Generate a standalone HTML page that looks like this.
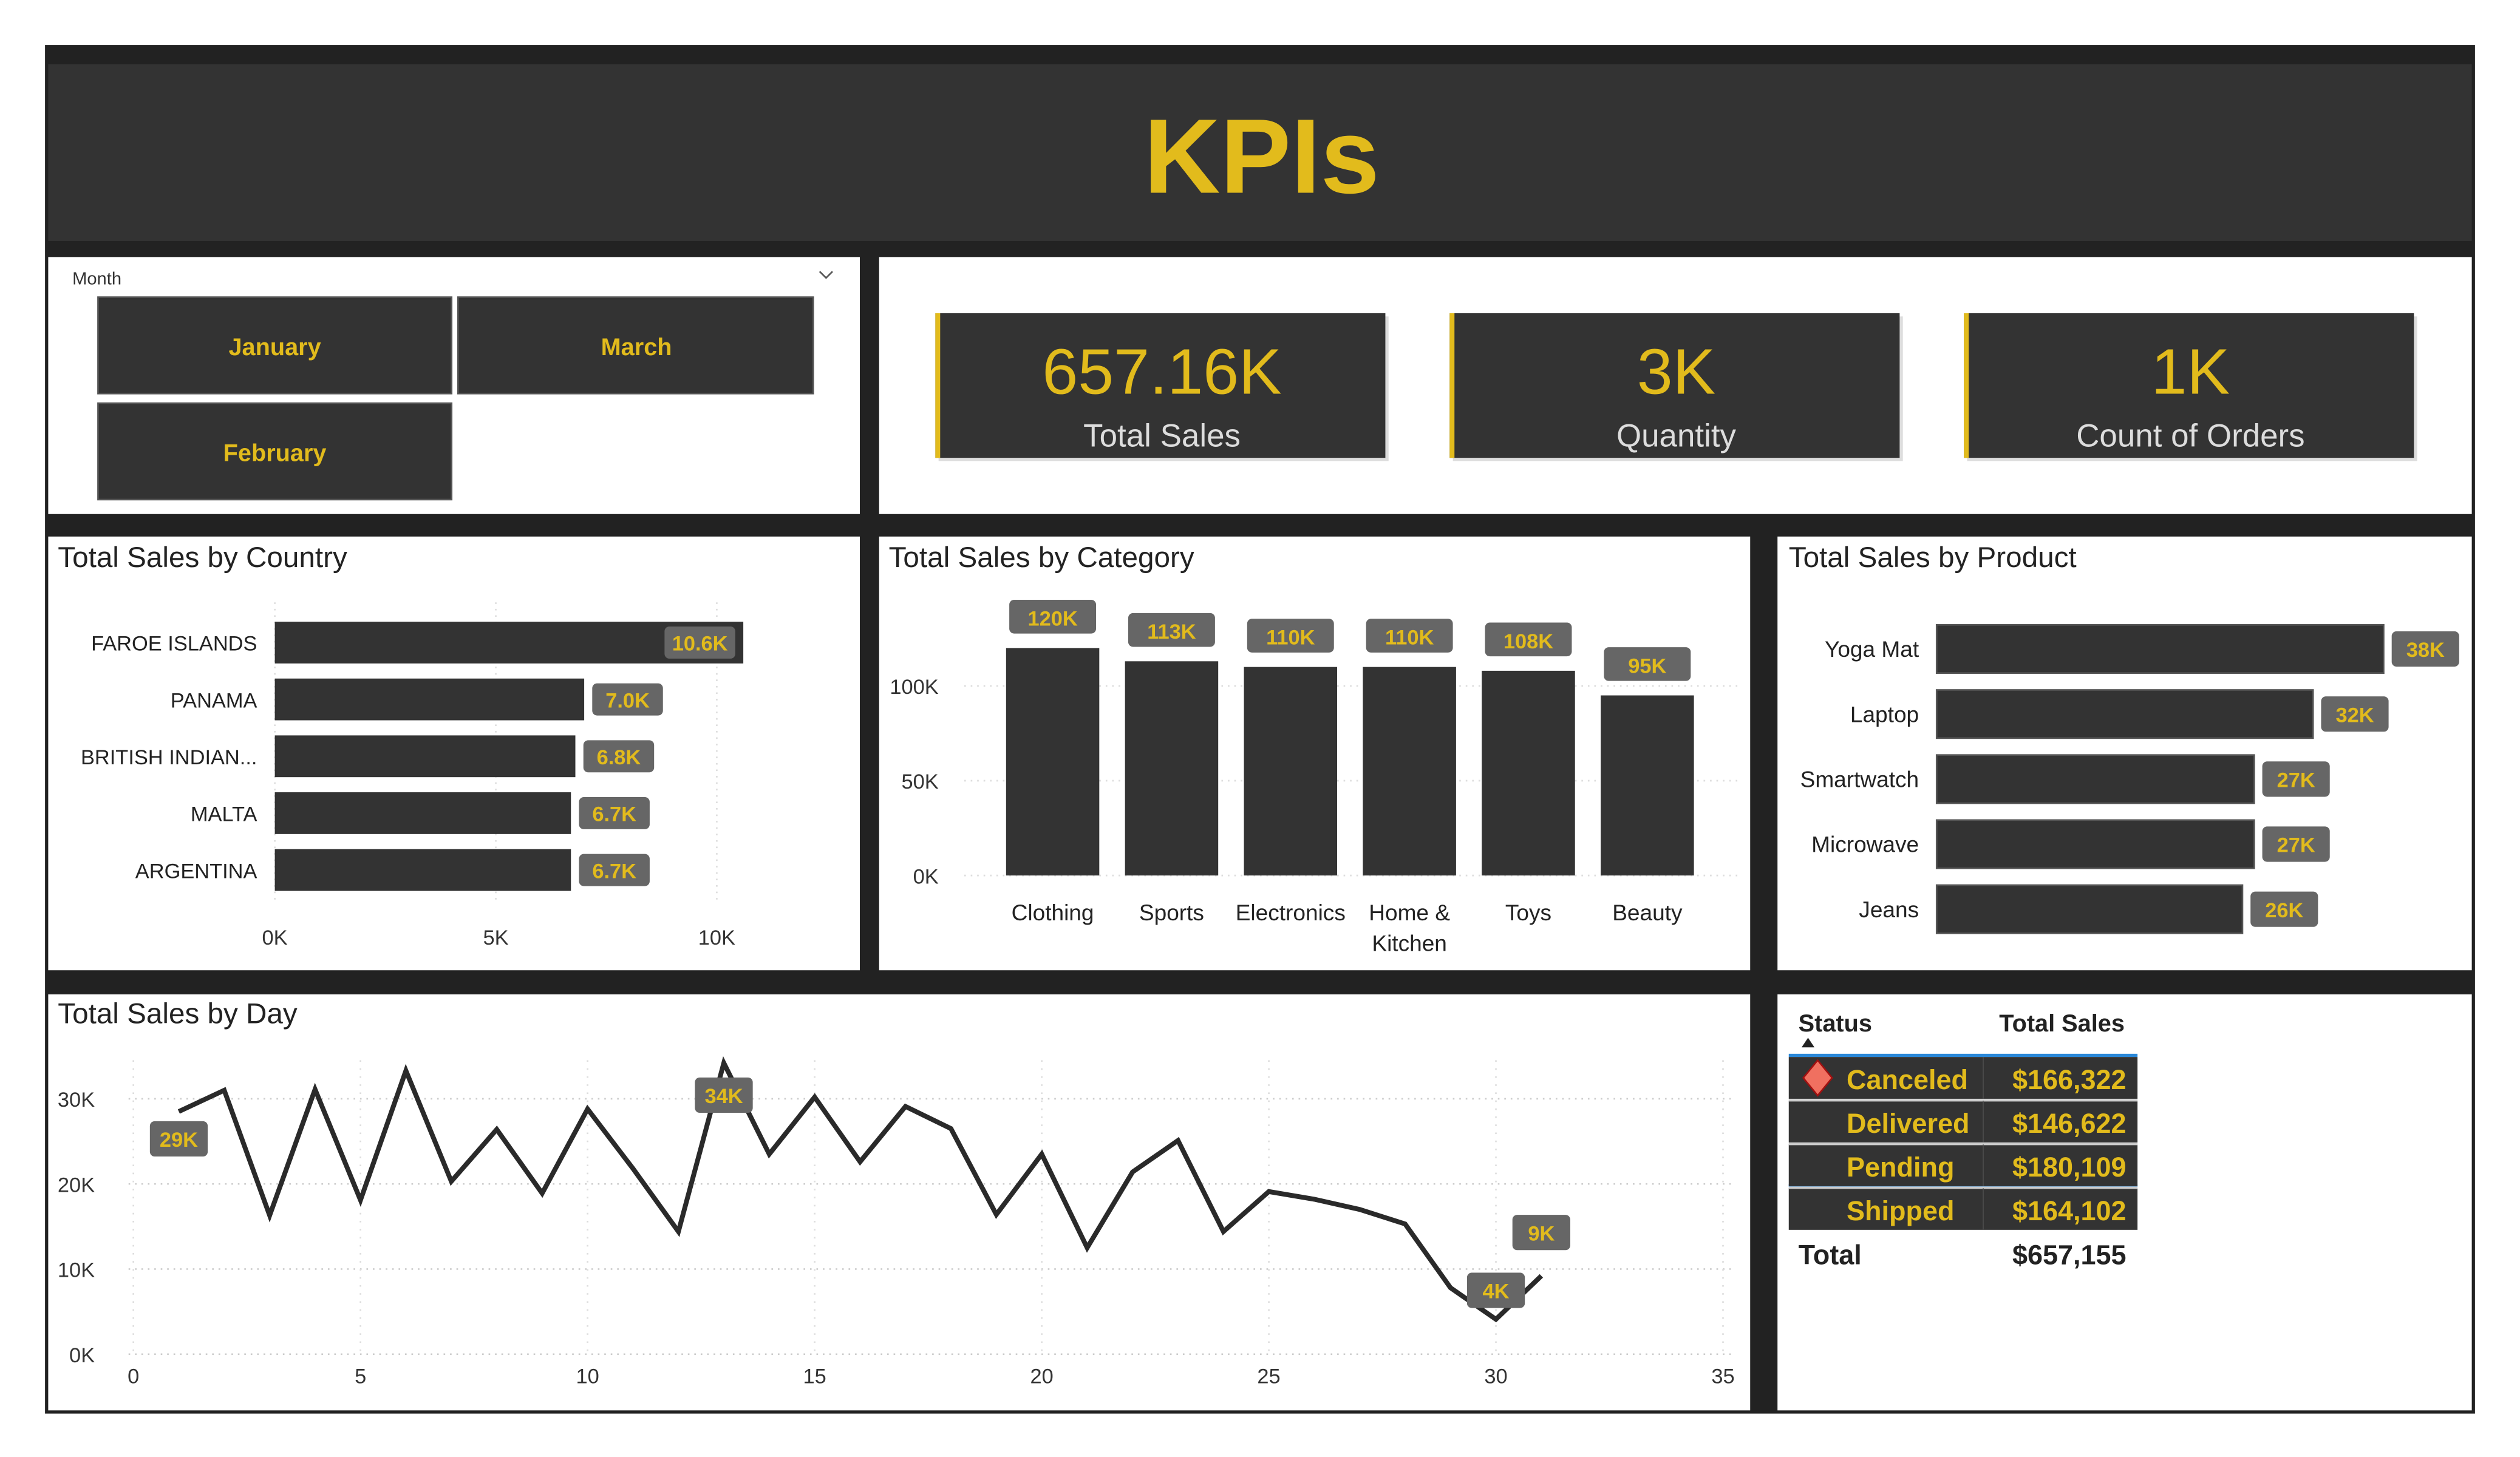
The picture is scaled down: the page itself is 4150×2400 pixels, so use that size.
<!DOCTYPE html>
<html><head><meta charset="utf-8"><style>
html,body{margin:0;padding:0;background:#fff;width:4150px;height:2400px;overflow:hidden}
svg{display:block;font-family:"Liberation Sans",sans-serif}
</style></head><body>
<svg id="root" width="4150" height="2400" viewBox="0 0 1568 907" preserveAspectRatio="none">
<rect x="0" y="0" width="1568" height="907" fill="#fff"/>
<rect x="28" y="28" width="1512" height="852" fill="#222"/>
<rect x="30" y="40" width="1508" height="110" fill="#333"/>
<text x="785" y="120" text-anchor="middle" font-size="66" font-weight="bold" fill="#E2BB1C">KPIs</text>

<rect x="30" y="160" width="505" height="160" fill="#fff"/>
<text x="45" y="177" font-size="11" fill="#333">Month</text>
<path d="M510 169 l4 4 l4 -4" stroke="#555" fill="none"/>
<g><rect x="61" y="185" width="220" height="60" fill="#333" stroke="#555"/><text x="171" y="221" text-anchor="middle" font-size="15" font-weight="bold" fill="#E2BB1C">January</text></g>
<g><rect x="285" y="185" width="221" height="60" fill="#333" stroke="#555"/><text x="396" y="221" text-anchor="middle" font-size="15" font-weight="bold" fill="#E2BB1C">March</text></g>
<g><rect x="61" y="251" width="220" height="60" fill="#333" stroke="#555"/><text x="171" y="287" text-anchor="middle" font-size="15" font-weight="bold" fill="#E2BB1C">February</text></g>

<rect x="547" y="160" width="991" height="160" fill="#fff"/>
<g><rect x="584" y="197" width="280" height="90" fill="#bbb" opacity="0.5"/><rect x="582" y="195" width="280" height="90" fill="#333"/><rect x="582" y="195" width="3" height="90" fill="#E2BB1C"/><text x="723" y="245" text-anchor="middle" font-size="40" fill="#E2BB1C">657.16K</text><text x="723" y="278" text-anchor="middle" font-size="20" fill="#ddd">Total Sales</text></g>
<g><rect x="904" y="197" width="280" height="90" fill="#bbb" opacity="0.5"/><rect x="902" y="195" width="280" height="90" fill="#333"/><rect x="902" y="195" width="3" height="90" fill="#E2BB1C"/><text x="1043" y="245" text-anchor="middle" font-size="40" fill="#E2BB1C">3K</text><text x="1043" y="278" text-anchor="middle" font-size="20" fill="#ddd">Quantity</text></g>
<g><rect x="1224" y="197" width="280" height="90" fill="#bbb" opacity="0.5"/><rect x="1222" y="195" width="280" height="90" fill="#333"/><rect x="1222" y="195" width="3" height="90" fill="#E2BB1C"/><text x="1363" y="245" text-anchor="middle" font-size="40" fill="#E2BB1C">1K</text><text x="1363" y="278" text-anchor="middle" font-size="20" fill="#ddd">Count of Orders</text></g>

<rect x="30" y="334" width="505" height="270" fill="#fff"/>
<text x="36" y="353" font-size="18" fill="#222">Total Sales by Country</text>
<g id="country"></g>
<rect x="547" y="334" width="542" height="270" fill="#fff"/>
<text x="553" y="353" font-size="18" fill="#222">Total Sales by Category</text>
<g id="category"></g>
<rect x="1106" y="334" width="432" height="270" fill="#fff"/>
<text x="1113" y="353" font-size="18" fill="#222">Total Sales by Product</text>
<g id="product"></g>
<rect x="30" y="619" width="1059" height="259" fill="#fff"/>
<text x="36" y="637" font-size="18" fill="#222">Total Sales by Day</text>
<g id="day"></g>
<rect x="1106" y="619" width="432" height="259" fill="#fff"/>
<g id="table">
<text x="1119" y="642" font-size="15" font-weight="bold" fill="#222">Status</text>
<text x="1322" y="642" font-size="15" font-weight="bold" fill="#222" text-anchor="end">Total Sales</text>
<path d="M1121 652 l4 -6 l4 6z" fill="#222"/>
<rect x="1113" y="656" width="217" height="2" fill="#2b88d8"/>
<rect x="1113" y="737" width="217" height="2" fill="#2b88d8"/>
<text x="1119" y="787" font-size="17" font-weight="bold" fill="#222">Total</text>
<text x="1323" y="787" font-size="17" font-weight="bold" fill="#222" text-anchor="end">$657,155</text>
</g>
<script>
const NS="http://www.w3.org/2000/svg";
function mk(p,t,a,txt){const e=document.createElementNS(NS,t);for(const k in a)e.setAttribute(k,a[k]);if(txt!==undefined)e.textContent=txt;p.appendChild(e);return e;}
const gold="#E2BB1C";
// Country
const countries=["FAROE ISLANDS","PANAMA","BRITISH INDIAN...","MALTA","ARGENTINA"];
const countryVals=[10.6,7.0,6.8,6.7,6.7];
const countryTicks=[0,5,10];
const cg=document.getElementById('country');
const cx=v=>171+v*27.5;
countryTicks.forEach(t=>{mk(cg,'line',{x1:cx(t),x2:cx(t),y1:375,y2:560,stroke:"#ddd","stroke-dasharray":"1 3"});
const l=mk(cg,'text',{x:cx(t),y:588,"text-anchor":"middle","font-size":13,fill:"#333"},t+"K");

});
countries.forEach((c,i)=>{const y=400+i*35.4;
const lb=mk(cg,'text',{x:160,y:y+5,"text-anchor":"end","font-size":13,fill:"#222"},c);


const b=mk(cg,'rect',{x:171,y:y-13,width:cx(countryVals[i])-171,height:26,fill:"#333"});


const w=44,inside=i===0;const bx=inside?cx(countryVals[i])-w-5:cx(countryVals[i])+5;
mk(cg,'rect',{x:bx,y:y-10,width:w,height:20,rx:3,fill:"#666"});
const v=mk(cg,'text',{x:bx+w/2,y:y+5,"text-anchor":"middle","font-size":13,"font-weight":"bold",fill:gold},countryVals[i].toFixed(1)+"K");

});
// Category
const categories=[["Clothing"],["Sports"],["Electronics"],["Home &","Kitchen"],["Toys"],["Beauty"]];
const categoryVals=[120,113,110,110,108,95];
const categoryTicks=[0,50,100];
const kg=document.getElementById('category');
const ky=v=>545-v*1.18;
categoryTicks.forEach(t=>{mk(kg,'line',{x1:600,x2:1082,y1:ky(t),y2:ky(t),stroke:"#ddd","stroke-dasharray":"1 3"});
const l=mk(kg,'text',{x:584,y:ky(t)+5,"text-anchor":"end","font-size":13,fill:"#333"},t+"K");

});
categories.forEach((c,i)=>{const x=655+i*74;
const b=mk(kg,'rect',{x:x-29,y:ky(categoryVals[i]),width:58,height:ky(0)-ky(categoryVals[i]),fill:"#333"});


mk(kg,'rect',{x:x-27,y:ky(categoryVals[i])-30,width:54,height:21,rx:3,fill:"#666"});
const v=mk(kg,'text',{x:x,y:ky(categoryVals[i])-14,"text-anchor":"middle","font-size":13,"font-weight":"bold",fill:gold},categoryVals[i]+"K");


c.forEach((s,j)=>{const l=mk(kg,'text',{x:x,y:573+j*19,"text-anchor":"middle","font-size":14,fill:"#222"},s);

});});
// Product
const products=["Yoga Mat","Laptop","Smartwatch","Microwave","Jeans"];
const productVals=[38,32,27,27,26];
const pg=document.getElementById('product');
const px=v=>1205+v*7.32;
products.forEach((p,i)=>{const y=404+i*40.5;
const l=mk(pg,'text',{x:1194,y:y+5,"text-anchor":"end","font-size":14,fill:"#222"},p);


const b=mk(pg,'rect',{x:1205,y:y-15,width:px(productVals[i])-1205,height:30,fill:"#333",stroke:"#555"});


const bx=px(productVals[i])+5;
mk(pg,'rect',{x:bx,y:y-11,width:42,height:22,rx:3,fill:"#666"});
const v=mk(pg,'text',{x:bx+21,y:y+5,"text-anchor":"middle","font-size":13,"font-weight":"bold",fill:gold},productVals[i]+"K");

});
// Day line
const days=[1,2,3,4,5,6,7,8,9,10,11,12,13,14,15,16,17,18,19,20,21,22,23,24,25,26,27,28,29,30,31];
const dayVals=[28.5,31,16.3,31.1,18.1,33.3,20.3,26.4,18.9,28.8,21.8,14.4,34.2,23.5,30.2,22.6,29.1,26.5,16.4,23.5,12.5,21.4,25.1,14.4,19.1,18.2,17.0,15.3,7.8,4.1,9.2];
const dayXTicks=[0,5,10,15,20,25,30,35];
const dayYTicks=[0,10,20,30];
const dg=document.getElementById('day');
const dx=d=>83+d*28.26, dy=v=>843-v*5.3;
dayYTicks.forEach(t=>{mk(dg,'line',{x1:80,x2:1080,y1:dy(t),y2:dy(t),stroke:"#ccc","stroke-dasharray":"1 3"});
const l=mk(dg,'text',{x:59,y:dy(t)+5,"text-anchor":"end","font-size":13,fill:"#333"},t+"K");

});
dayXTicks.forEach(t=>{mk(dg,'line',{x1:dx(t),x2:dx(t),y1:660,y2:843,stroke:"#ddd","stroke-dasharray":"1 4"});
const l=mk(dg,'text',{x:dx(t),y:861,"text-anchor":"middle","font-size":13,fill:"#333"},t);

});
const line=mk(dg,'polyline',{points:days.map((d,i)=>dx(d)+","+dy(dayVals[i])).join(" "),fill:"none",stroke:"#2a2a2a","stroke-width":3,"stroke-linejoin":"miter"});


const labelIdx=[0,12,29,30];
const labelOff=[[0,17],[0,20],[0,-18],[0,-27]];
labelIdx.forEach((i,k)=>{const x=dx(days[i])+labelOff[k][0],y=dy(dayVals[i])+labelOff[k][1];
mk(dg,'rect',{x:x-18,y:y-11,width:36,height:22,rx:3,fill:"#666"});
const v=mk(dg,'text',{x:x,y:y+5,"text-anchor":"middle","font-size":13,"font-weight":"bold",fill:gold},Math.round(dayVals[i])+"K");

});
// Table
const statuses=["Canceled","Delivered","Pending","Shipped"];
const statusVals=["$166,322","$146,622","$180,109","$164,102"];
const tg=document.getElementById('table');
statuses.forEach((s,i)=>{const y=658+i*27.2;
const r=mk(tg,'rect',{x:1113,y:y,width:217,height:26,fill:"#333"});


if(i>0)mk(tg,'rect',{x:1113,y:y-1,width:217,height:1.5,fill:"#ccc"});
mk(tg,'line',{x1:1234,x2:1234,y1:y,y2:y+26,stroke:"#555","stroke-width":0.5});
mk(tg,'text',{x:1149,y:y+20,"font-size":17,"font-weight":"bold",fill:gold},s);
mk(tg,'text',{x:1323,y:y+20,"text-anchor":"end","font-size":17,"font-weight":"bold",fill:gold},statusVals[i]);});
const dm=mk(tg,'path',{d:"M1131 660 l9 11 l-9 11 l-9 -11z",fill:"#f07060",stroke:"#a01010","stroke-width":1});


</script>
</svg>
</body></html>
